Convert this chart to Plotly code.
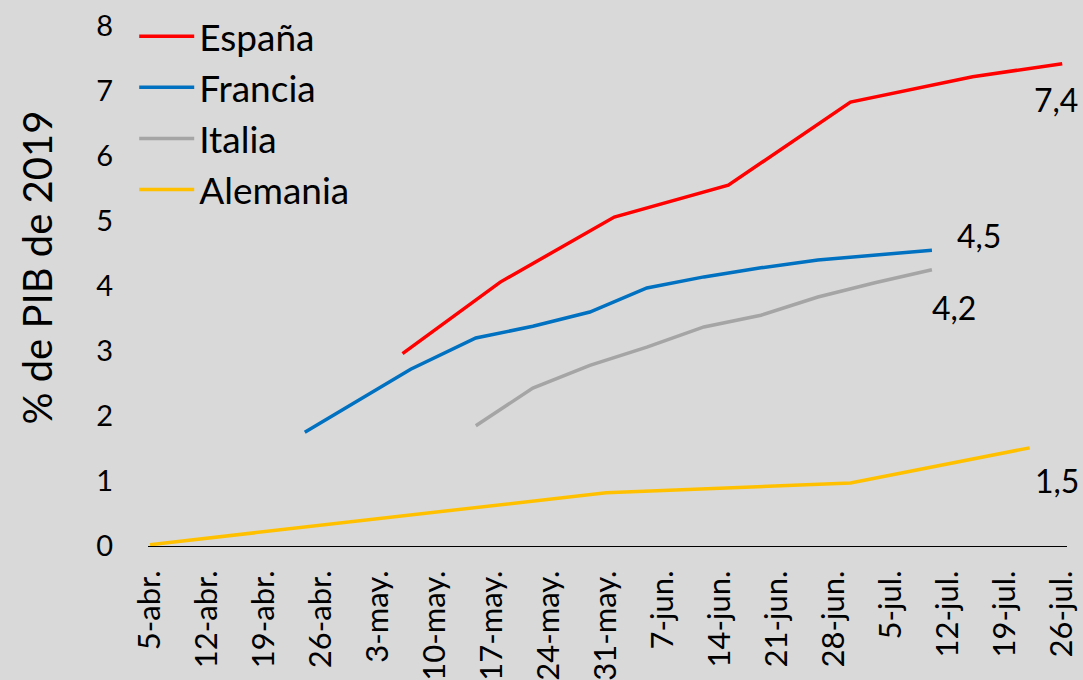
import plotly.graph_objects as go

# ---- data ----
espana_dates = ["2020-05-06", "2020-05-18", "2020-06-01", "2020-06-15", "2020-06-30", "2020-07-15", "2020-07-26"]
espana_vals = [2.96, 4.06, 5.06, 5.55, 6.83, 7.22, 7.42]

francia_dates = ["2020-04-24", "2020-05-07", "2020-05-15", "2020-05-22", "2020-05-29", "2020-06-05",
                 "2020-06-12", "2020-06-19", "2020-06-26", "2020-07-03", "2020-07-10"]
francia_vals = [1.75, 2.72, 3.20, 3.38, 3.60, 3.97, 4.14, 4.28, 4.40, 4.48, 4.55]

italia_dates = ["2020-05-15", "2020-05-22", "2020-05-29", "2020-06-05", "2020-06-12", "2020-06-19",
                "2020-06-26", "2020-07-03", "2020-07-10"]
italia_vals = [1.85, 2.43, 2.78, 3.06, 3.37, 3.55, 3.83, 4.05, 4.25]

alemania_dates = ["2020-04-05", "2020-05-31", "2020-06-30", "2020-07-22"]
alemania_vals = [0.02, 0.82, 0.97, 1.51]

tick_dates = ["2020-04-05", "2020-04-12", "2020-04-19", "2020-04-26", "2020-05-03", "2020-05-10",
              "2020-05-17", "2020-05-24", "2020-05-31", "2020-06-07", "2020-06-14", "2020-06-21",
              "2020-06-28", "2020-07-05", "2020-07-12", "2020-07-19", "2020-07-26"]
tick_labels = ["5-abr.", "12-abr.", "19-abr.", "26-abr.", "3-may.", "10-may.", "17-may.", "24-may.",
               "31-may.", "7-jun.", "14-jun.", "21-jun.", "28-jun.", "5-jul.", "12-jul.", "19-jul.", "26-jul."]

end_labels = ["7,4", "4,5", "4,2", "1,5"]

series = [
    ("España", espana_dates, espana_vals, "#FF0000"),
    ("Francia", francia_dates, francia_vals, "#0070C0"),
    ("Italia", italia_dates, italia_vals, "#A5A5A5"),
    ("Alemania", alemania_dates, alemania_vals, "#FFC000"),
]

FONT = "Lato, 'Open Sans', sans-serif"
BG = "#D9D9D9"

fig = go.Figure()
for name, d, v, c in series:
    fig.add_trace(go.Scatter(x=d, y=v, mode="lines", name=name, legendgroup=name,
                             line=dict(color=c, width=3.5)))

# end-of-series value labels
shifts = [(-6, -36), (47, 15), (22, -38), (27, -33)]
for (name, d, v, c), lab, (dx, dy) in zip(series, end_labels, shifts):
    fig.add_annotation(x=d[-1], y=v[-1], text=lab, showarrow=False, xshift=dx, yshift=dy,
                       font=dict(family=FONT, size=32, color="#000000"))

fig.add_annotation(xref="paper", yref="paper", x=-0.121, y=0.535, text="% de PIB de 2019",
                   textangle=-90, showarrow=False, xanchor="center", yanchor="middle",
                   font=dict(family=FONT, size=40, color="#000000"))

fig.update_layout(
    width=1083, height=680,
    paper_bgcolor=BG, plot_bgcolor=BG,
    margin=dict(l=148, r=16, t=26, b=134, autoexpand=False),
    font=dict(family=FONT, color="#000000"),
    showlegend=True,
    legend=dict(x=-0.015, y=1.039, xanchor="left", yanchor="top", bgcolor="rgba(0,0,0,0)",
                font=dict(family=FONT, size=37), tracegroupgap=0, itemwidth=55),
    xaxis=dict(type="date", range=["2020-04-04 18:00", "2020-07-26 14:00"],
               tickvals=tick_dates, ticktext=tick_labels, tickangle=-90,
               tickfont=dict(family=FONT, size=31), showgrid=False, zeroline=False,
               showline=True, linecolor="#000000", linewidth=1.3, automargin=False,
               ticks="outside", ticklen=11, tickcolor="rgba(0,0,0,0)"),
    yaxis=dict(range=[0, 8], tickvals=[0, 1, 2, 3, 4, 5, 6, 7, 8], automargin=False,
               tickfont=dict(family=FONT, size=29), showgrid=False, zeroline=False,
               showline=False, ticks="outside", ticklen=28, tickcolor="rgba(0,0,0,0)"),
)

fig.write_html("out.html", config={"displayModeBar": False},
               post_script="document.body.style.margin='0';document.body.style.overflow='hidden';")
